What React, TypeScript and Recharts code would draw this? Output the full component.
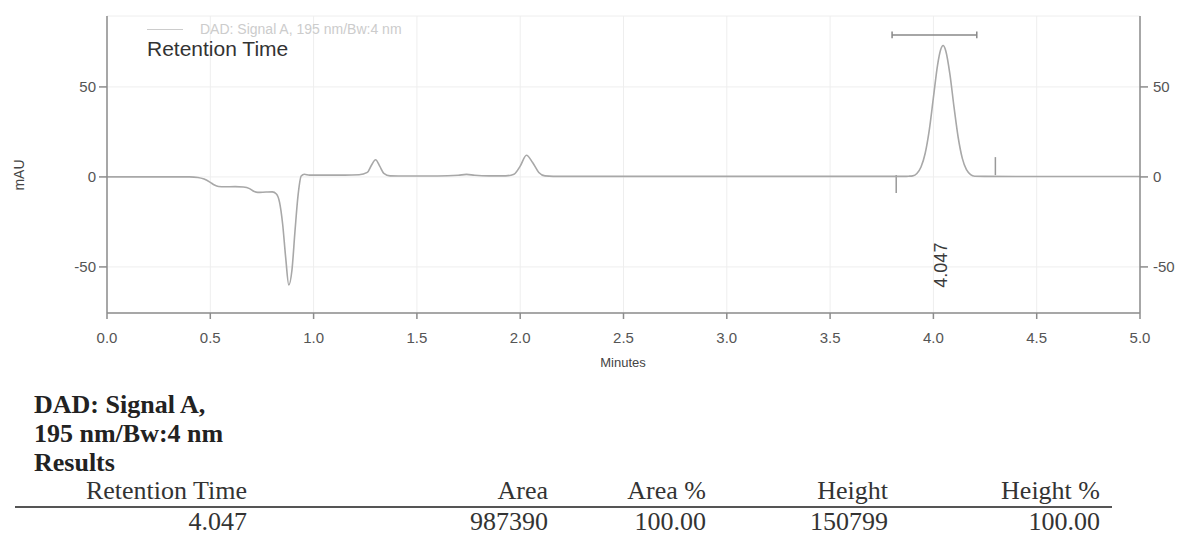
import React from 'react';
import {
  CartesianGrid,
  Line,
  LineChart,
  ReferenceDot,
  ReferenceLine,
  XAxis,
  YAxis,
} from 'recharts';

// retention time (min) and detector signal (mAU)
const TIME_MIN = [
  0, 0.1, 0.2, 0.3, 0.4, 0.44, 0.47, 0.5, 0.52, 0.54, 0.57, 0.62, 0.66, 0.69, 0.71, 0.73, 0.77, 0.8,
  0.82, 0.835, 0.85, 0.865, 0.88, 0.895, 0.91, 0.925, 0.94, 0.955, 0.98, 1.05, 1.15, 1.22, 1.26, 1.28,
  1.3, 1.32, 1.34, 1.37, 1.45, 1.6, 1.7, 1.74, 1.78, 1.85, 1.93, 1.97, 2.0, 2.03, 2.06, 2.09, 2.12, 2.2,
  2.5, 3.0, 3.5, 3.78, 3.86, 3.88, 3.9, 3.92, 3.94, 3.96, 3.98, 4.0, 4.02, 4.035, 4.047, 4.06, 4.08, 4.1,
  4.12, 4.14, 4.16, 4.18, 4.2, 4.25, 4.5, 5.0,
];
const SIGNAL_MAU = [
  0, 0, 0, 0, 0, -0.3, -1.2, -3, -4.5, -5.3, -5.5, -5.4, -5.6, -6.5, -8, -8.6, -8.4, -8.3,
  -9.5, -14, -26, -45, -60, -52, -30, -10, 0.5, 1.5, 1, 1, 1, 1.2, 2.5, 6.5,
  9.5, 6, 2, 0.6, 0.5, 0.5, 0.9, 1.4, 0.9, 0.6, 0.6, 1.5, 6, 12, 8, 2.5, 0.6, 0.3,
  0.3, 0.3, 0.3, 0.3, 0.3, 0.4, 0.6, 1.9, 5.5, 13, 26, 44, 62, 70.6, 73, 70, 57, 38.6,
  21.9, 10.3, 4, 1.3, 0.4, 0.3, 0.2, 0.2,
];

const X_TICKS = [0, 0.5, 1, 1.5, 2, 2.5, 3, 3.5, 4, 4.5, 5];
const Y_TICKS = [-50, 0, 50];

const PEAK_RT = 4.047;
const INTEGRATION_START = 3.8;
const INTEGRATION_END = 4.21;
const BASELINE_START = 3.82;
const BASELINE_END = 4.3;

const RESULT_HEADERS = ['Retention Time', 'Area', 'Area %', 'Height', 'Height %'];
const RESULT_ROW = ['4.047', '987390', '100.00', '150799', '100.00'];
const COLUMN_RIGHT = [247, 548, 706, 888, 1100];

const AXIS = '#8c8c8c';
const TRACE = '#a8a8a8';
const TICK_TEXT = { fill: '#555', fontSize: 15 };

const data = TIME_MIN.map((t, i) => ({ t, mAU: SIGNAL_MAU[i] }));

function PeakLabel({ viewBox }: { viewBox?: { x: number; y: number; width: number; height: number } }) {
  if (!viewBox) return null;
  const cx = viewBox.x + viewBox.width / 2 - 2;
  const cy = viewBox.y + viewBox.height / 2;
  return (
    <text
      x={cx}
      y={cy}
      transform={`rotate(-90 ${cx} ${cy})`}
      textAnchor="middle"
      dominantBaseline="central"
      fill="#3a3a3a"
      fontSize={18}
    >
      {PEAK_RT.toFixed(3)}
    </text>
  );
}

export default function App() {
  const serif = '"Liberation Serif", "Times New Roman", serif';
  return (
    <div
      style={{
        position: 'absolute',
        left: 0,
        top: 0,
        width: 1180,
        height: 536,
        background: '#fff',
        fontFamily: '"Liberation Sans", Arial, sans-serif',
        overflow: 'hidden',
      }}
    >
      <LineChart width={1180} height={372} data={data} margin={{ top: 16, right: 0, bottom: 29, left: 0 }}>
        <CartesianGrid stroke="#eeeeee" strokeWidth={1} />
        <XAxis
          dataKey="t"
          type="number"
          domain={[0, 5]}
          ticks={X_TICKS}
          tickFormatter={(v: number) => v.toFixed(1)}
          tick={TICK_TEXT}
          tickSize={6}
          tickMargin={13}
          height={30}
          stroke={AXIS}
          strokeWidth={1.5}
        />
        <XAxis xAxisId="top" orientation="top" type="number" domain={[0, 5]} height={0} tick={false} tickLine={false} stroke={AXIS} strokeWidth={1.5} />
        <YAxis
          type="number"
          domain={[-75.6, 89.4]}
          allowDataOverflow
          ticks={Y_TICKS}
          width={107}
          tick={TICK_TEXT}
          tickSize={8}
          tickMargin={3}
          stroke={AXIS}
          strokeWidth={1.5}
        />
        <YAxis
          yAxisId="right"
          orientation="right"
          type="number"
          domain={[-75.6, 89.4]}
          allowDataOverflow
          ticks={Y_TICKS}
          width={40}
          tick={TICK_TEXT}
          tickSize={8}
          tickMargin={5}
          stroke={AXIS}
          strokeWidth={1.5}
        />
        <ReferenceLine segment={[{ x: INTEGRATION_START, y: 78.9 }, { x: INTEGRATION_END, y: 78.9 }]} stroke="#888" strokeWidth={1.5} />
        <ReferenceLine segment={[{ x: INTEGRATION_START, y: 77 }, { x: INTEGRATION_START, y: 80.8 }]} stroke="#888" strokeWidth={1.5} />
        <ReferenceLine segment={[{ x: INTEGRATION_END, y: 77 }, { x: INTEGRATION_END, y: 80.8 }]} stroke="#888" strokeWidth={1.5} />
        <ReferenceLine segment={[{ x: BASELINE_START, y: 1 }, { x: BASELINE_START, y: -9 }]} stroke="#999" strokeWidth={1.5} />
        <ReferenceLine segment={[{ x: BASELINE_END, y: 1 }, { x: BASELINE_END, y: 11 }]} stroke="#999" strokeWidth={1.5} />
        <Line
          type="monotone"
          dataKey="mAU"
          stroke={TRACE}
          strokeWidth={1.6}
          dot={false}
          isAnimationActive={false}
        />
        <ReferenceDot x={PEAK_RT} y={-49} r={0} fill="none" stroke="none" label={<PeakLabel />} />
      </LineChart>

      {/* legend + title inside the plot */}
      <div style={{ position: 'absolute', left: 147, top: 29, width: 36, height: 0, borderTop: '1.5px solid #cccccc' }} />
      <div style={{ position: 'absolute', left: 200, top: 21, fontSize: 14, color: '#cccccc', whiteSpace: 'nowrap' }}>
        DAD: Signal A, 195 nm/Bw:4 nm
      </div>
      <div style={{ position: 'absolute', left: 147, top: 37, fontSize: 21, color: '#333', whiteSpace: 'nowrap' }}>
        Retention Time
      </div>
      <div
        style={{
          position: 'absolute',
          left: 19,
          top: 175,
          fontSize: 14,
          color: '#444',
          transform: 'translate(-50%, -50%) rotate(-90deg)',
          whiteSpace: 'nowrap',
        }}
      >
        mAU
      </div>
      <div style={{ position: 'absolute', left: 623, top: 355, fontSize: 13, color: '#444', transform: 'translateX(-50%)' }}>
        Minutes
      </div>

      {/* results block */}
      <div style={{ position: 'absolute', left: 34, top: 390, fontFamily: serif, fontWeight: 'bold', fontSize: 26, lineHeight: '29px', color: '#222' }}>
        <div>DAD: Signal A,</div>
        <div>195 nm/Bw:4 nm</div>
        <div>Results</div>
      </div>
      {RESULT_HEADERS.map((h, i) => (
        <div
          key={h}
          style={{ position: 'absolute', right: 1180 - COLUMN_RIGHT[i], top: 476, fontFamily: serif, fontSize: 26, color: '#333', whiteSpace: 'nowrap' }}
        >
          {h}
        </div>
      ))}
      <div style={{ position: 'absolute', left: 15, top: 506, width: 1097, height: 0, borderTop: '2px solid #555' }} />
      {RESULT_ROW.map((v, i) => (
        <div
          key={i}
          style={{ position: 'absolute', right: 1180 - COLUMN_RIGHT[i], top: 507, fontFamily: serif, fontSize: 26, color: '#333', whiteSpace: 'nowrap' }}
        >
          {v}
        </div>
      ))}
    </div>
  );
}
